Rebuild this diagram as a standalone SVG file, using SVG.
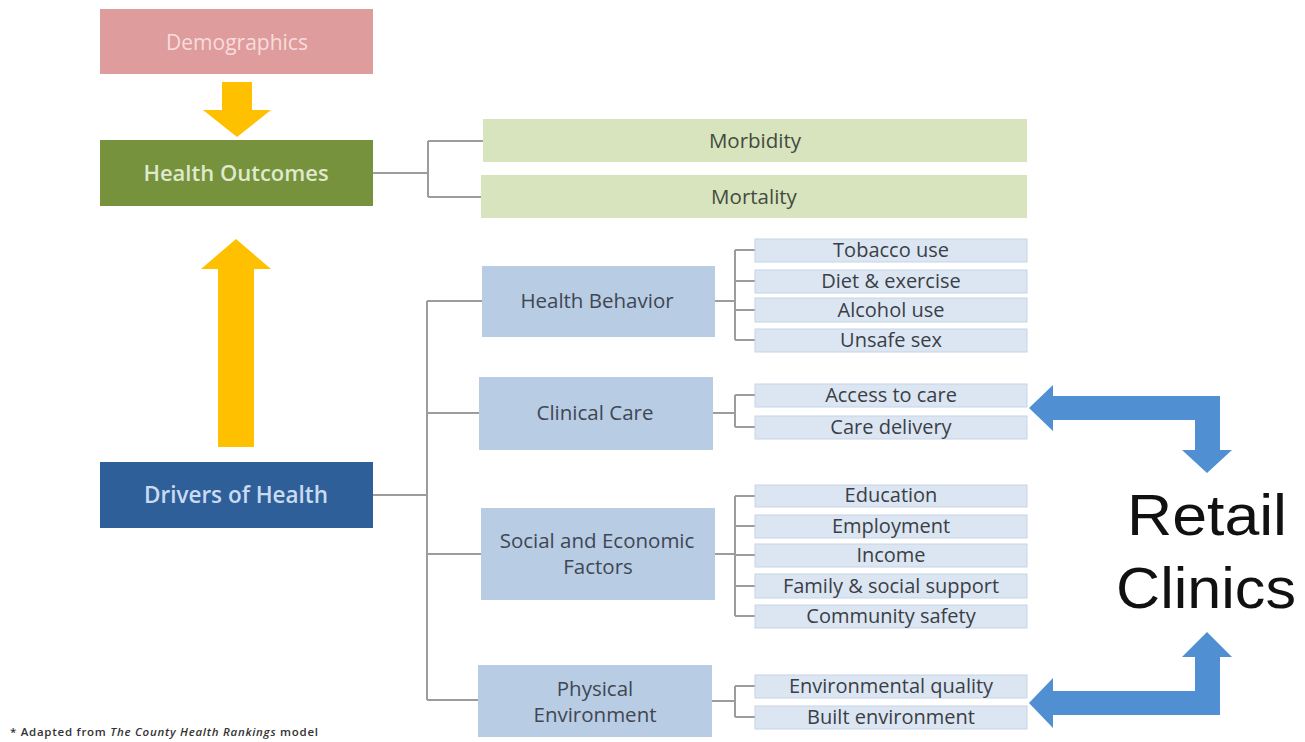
<svg xmlns="http://www.w3.org/2000/svg" width="1305" height="742" viewBox="0 0 1305 742">
<style>
text{font-family:"Open Sans","Liberation Sans",sans-serif;text-anchor:middle}
.line{fill:none;stroke:#9c9c9c;stroke-width:2}
.out{fill:#d7e4bd}
.mid{fill:#b8cce4}
.sub{fill:#dce6f2;stroke:#c8d4e6;stroke-width:1}
.t1{font-size:20.5px;fill:#3f4753}
.t2{font-size:20px;fill:#3a3f47}
.t3{font-size:20.5px;fill:#444a40}
.yel{fill:#ffc000}
.blu{fill:#4f8fd2}
.big{font-family:"Liberation Sans","DejaVu Sans",sans-serif;font-size:58px;fill:#111111}
</style>
<rect width="1305" height="742" fill="#ffffff"/>

<g id="connectors">
<path class="line" d="M373,173 H428 M428,141 V197 M428,141 H483 M428,197 H481"/>
<path class="line" d="M373,495 H427 M427,301 V700 M427,301 H482 M427,413 H479 M427,554 H481 M427,700 H478"/>
<path class="line" d="M715,301 H735 M735,250 V340 M735,250 H755 M735,281 H755 M735,310 H755 M735,340 H755"/>
<path class="line" d="M713,413 H735 M735,395 V427 M735,395 H755 M735,427 H755"/>
<path class="line" d="M715,554 H735 M735,496 V616 M735,496 H755 M735,526 H755 M735,555 H755 M735,586 H755 M735,616 H755"/>
<path class="line" d="M712,701 H735 M735,686 V717 M735,686 H755 M735,717 H755"/>
<polygon id="arrow-demo" class="yel" points="222,82 252,82 252,110 271,110 237,137 203,110 222,110"/>
<polygon id="arrow-drivers" class="yel" points="218,447 218,269 201,269 236,239 271,269 254,269 254,447"/>
<polygon id="arrow-retail-top" class="blu" points="1029,408 1053,385 1053,396 1220,396 1220,450 1232,450 1207,473 1182,450 1195,450 1195,420 1053,420 1053,431"/>
<polygon id="arrow-retail-bottom" class="blu" points="1029,703 1053,678 1053,691 1195,691 1195,657 1182,657 1207,632 1232,657 1220,657 1220,715 1053,715 1053,728"/>
</g>

<g id="demographics">
<rect x="100" y="9" width="273" height="65" fill="#df9c9c"/>
<text x="237" y="50" font-size="21" fill="#f8dcdc" font-weight="500">Demographics</text>
</g>
<g id="health-outcomes">
<rect x="100" y="140" width="273" height="66" fill="#76923c"/>
<text x="236" y="181" font-size="22" fill="#dfe9cc" font-weight="600">Health Outcomes</text>
</g>
<g id="drivers">
<rect x="100" y="462" width="273" height="66" fill="#2f5f99"/>
<text x="236" y="503" font-size="22.5" fill="#c9dbf1" font-weight="600">Drivers of Health</text>
</g>

<g id="morbidity"><rect class="out" x="483" y="119" width="544" height="43"/><text class="t3" x="755" y="148">Morbidity</text></g>
<g id="mortality"><rect class="out" x="481" y="175" width="546" height="43"/><text class="t3" x="754" y="204">Mortality</text></g>

<g id="health-behavior"><rect class="mid" x="482" y="266" width="233" height="71"/><text class="t1" x="597" y="308">Health Behavior</text></g>
<g id="clinical-care"><rect class="mid" x="479" y="377" width="234" height="73"/><text class="t1" x="595" y="420">Clinical Care</text></g>
<g id="social-economic"><rect class="mid" x="481" y="508" width="234" height="92"/><text class="t1" x="597" y="548">Social and Economic</text><text class="t1" x="598" y="574">Factors</text></g>
<g id="physical-env"><rect class="mid" x="478" y="665" width="234" height="72"/><text class="t1" x="595" y="696">Physical</text><text class="t1" x="595" y="722">Environment</text></g>

<g id="tobacco"><rect class="sub" x="755" y="239" width="272" height="23"/><text class="t2" x="891" y="257">Tobacco use</text></g>
<g id="diet"><rect class="sub" x="755" y="270" width="272" height="23"/><text class="t2" x="891" y="288">Diet &amp; exercise</text></g>
<g id="alcohol"><rect class="sub" x="755" y="298" width="272" height="24"/><text class="t2" x="891" y="317">Alcohol use</text></g>
<g id="unsafe-sex"><rect class="sub" x="755" y="329" width="272" height="23"/><text class="t2" x="891" y="347">Unsafe sex</text></g>
<g id="access"><rect class="sub" x="755" y="384" width="272" height="23"/><text class="t2" x="891" y="402">Access to care</text></g>
<g id="care-delivery"><rect class="sub" x="755" y="416" width="272" height="23"/><text class="t2" x="891" y="434">Care delivery</text></g>
<g id="education"><rect class="sub" x="755" y="485" width="272" height="22"/><text class="t2" x="891" y="502">Education</text></g>
<g id="employment"><rect class="sub" x="755" y="515" width="272" height="23"/><text class="t2" x="891" y="533">Employment</text></g>
<g id="income"><rect class="sub" x="755" y="544" width="272" height="23"/><text class="t2" x="891" y="562">Income</text></g>
<g id="family"><rect class="sub" x="755" y="574" width="272" height="24"/><text class="t2" x="891" y="593">Family &amp; social support</text></g>
<g id="community"><rect class="sub" x="755" y="605" width="272" height="23"/><text class="t2" x="891" y="623">Community safety</text></g>
<g id="env-quality"><rect class="sub" x="755" y="675" width="272" height="23"/><text class="t2" x="891" y="693">Environmental quality</text></g>
<g id="built-env"><rect class="sub" x="755" y="706" width="272" height="23"/><text class="t2" x="891" y="724">Built environment</text></g>

<g id="retail-clinics">
<text class="big" x="1207" y="535" textLength="160" lengthAdjust="spacingAndGlyphs">Retail</text>
<text class="big" x="1206" y="608" textLength="180" lengthAdjust="spacingAndGlyphs">Clinics</text>
</g>

<text x="10" y="736" font-size="11.5" fill="#333333" font-weight="600" style="text-anchor:start" textLength="308">* Adapted from <tspan font-style="italic">The County Health Rankings</tspan> model</text>
</svg>
